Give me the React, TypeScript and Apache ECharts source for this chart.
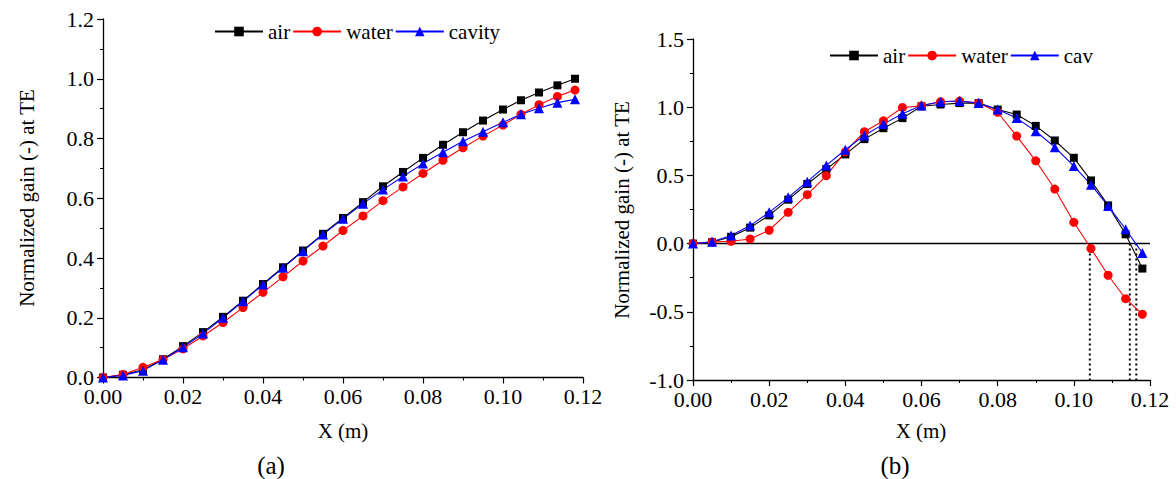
import React, { useEffect, useRef } from "react";
import * as echarts from "echarts";

const xVals = [0, 0.005, 0.01, 0.015, 0.02, 0.025, 0.03, 0.035, 0.04, 0.045, 0.05, 0.055, 0.06, 0.065, 0.07, 0.075, 0.08, 0.085, 0.09, 0.095, 0.1, 0.1045, 0.109, 0.1136, 0.118];

const airA = [0, 0.009, 0.026, 0.061, 0.105, 0.152, 0.203, 0.257, 0.313, 0.369, 0.425, 0.481, 0.534, 0.587, 0.64, 0.688, 0.735, 0.779, 0.821, 0.86, 0.897, 0.928, 0.954, 0.978, 1.0];
const waterA = [0, 0.01, 0.034, 0.06, 0.096, 0.139, 0.184, 0.234, 0.285, 0.337, 0.39, 0.44, 0.492, 0.541, 0.592, 0.638, 0.683, 0.727, 0.769, 0.808, 0.845, 0.881, 0.913, 0.941, 0.962];
const cavityA = [0, 0.007, 0.023, 0.059, 0.101, 0.147, 0.2, 0.255, 0.311, 0.367, 0.423, 0.479, 0.531, 0.582, 0.629, 0.673, 0.716, 0.754, 0.791, 0.823, 0.854, 0.881, 0.901, 0.92, 0.931];

const airB = [0, 0.01, 0.05, 0.117, 0.207, 0.322, 0.437, 0.546, 0.654, 0.766, 0.846, 0.92, 1.007, 1.02, 1.03, 1.03, 0.983, 0.946, 0.863, 0.756, 0.629, 0.463, 0.28, 0.068, -0.183];
const waterB = [0, 0.012, 0.017, 0.034, 0.098, 0.229, 0.359, 0.498, 0.673, 0.82, 0.9, 0.998, 1.01, 1.04, 1.045, 1.03, 0.963, 0.788, 0.607, 0.4, 0.156, -0.036, -0.232, -0.404, -0.518];
const cavB = [0, 0.013, 0.059, 0.132, 0.229, 0.339, 0.454, 0.573, 0.688, 0.793, 0.876, 0.952, 1.012, 1.04, 1.046, 1.03, 0.983, 0.92, 0.824, 0.707, 0.568, 0.432, 0.276, 0.105, -0.068];

const crossX = [0.1042, 0.1147, 0.1164];

const legendA = ["air", "water", "cavity"];
const legendB = ["air", "water", "cav"];
const yTitle = "Normalized gain (-) at TE";
const xTitle = "X (m)";

const FONT = "Liberation Serif, serif";

const pair = (ys: number[]) => xVals.map((x, i) => [x, ys[i]]);

const mkSeries = (name: string, ys: number[], idx: number, color: string, symbol: string, size: number) => ({
  name,
  type: "line",
  xAxisIndex: idx,
  yAxisIndex: idx,
  data: pair(ys),
  symbol,
  symbolSize: size,
  showSymbol: true,
  lineStyle: { color, width: 1.1 },
  itemStyle: { color },
  z: 3,
});

const txt = (text: string, x: number, y: number, size: number, rot = 0) => ({
  type: "text",
  x,
  y,
  rotation: rot,
  style: { text, fontFamily: FONT, fontSize: size, fill: "#000", textAlign: "center", textVerticalAlign: "middle" },
});

export default function App() {
  const ref = useRef<HTMLDivElement>(null);
  useEffect(() => {
    if (!ref.current) return;
    const chart = echarts.init(ref.current, null, { renderer: "svg" });
    const axisCommon = {
      axisLine: { show: true, onZero: false, lineStyle: { color: "#000", width: 1.3 } },
      axisTick: { show: true, length: 6, lineStyle: { color: "#000", width: 1.2 } },
      minorTick: { show: true, splitNumber: 2, length: 3, lineStyle: { color: "#000", width: 1 } },
      splitLine: { show: false },
      axisLabel: { color: "#000", fontFamily: FONT, fontSize: 22 },
    };
    const xAxis = (idx: number) => ({
      type: "value",
      gridIndex: idx,
      min: 0,
      max: 0.12,
      interval: 0.02,
      ...axisCommon,
      axisLabel: { ...axisCommon.axisLabel, margin: 8, formatter: (v: number) => v.toFixed(2) },
    });
    const series: any[] = [
      mkSeries("air", airA, 0, "#000000", "rect", 8),
      mkSeries("water", waterA, 0, "#ff0000", "circle", 9),
      mkSeries("cavity", cavityA, 0, "#0000ff", "triangle", 10),
      {
        name: "zero",
        type: "line",
        xAxisIndex: 1,
        yAxisIndex: 1,
        data: [[0, 0], [0.12, 0]],
        symbol: "none",
        lineStyle: { color: "#000", width: 1.5 },
        silent: true,
        z: 1,
      },
      ...crossX.map((cx, i) => ({
        name: "cross" + i,
        type: "line",
        xAxisIndex: 1,
        yAxisIndex: 1,
        data: [[cx, 0], [cx, -1]],
        symbol: "none",
        lineStyle: { color: "#000", width: 2, type: [2, 3] },
        silent: true,
        z: 1,
      })),
      mkSeries("air", airB, 1, "#000000", "rect", 8),
      mkSeries("water", waterB, 1, "#ff0000", "circle", 9),
      mkSeries("cav", cavB, 1, "#0000ff", "triangle", 10),
    ];
    const legendCommon = {
      orient: "horizontal",
      itemWidth: 48,
      itemHeight: 12,
      itemGap: 2,
      textStyle: { color: "#000", fontFamily: FONT, fontSize: 21 },
      selectedMode: false,
    };
    chart.setOption({
      animation: false,
      backgroundColor: "#fff",
      grid: [
        { left: 103, top: 19, width: 480, height: 358.5 },
        { left: 693, top: 39, width: 457, height: 341 },
      ],
      xAxis: [xAxis(0), xAxis(1)],
      yAxis: [
        {
          type: "value",
          gridIndex: 0,
          min: 0,
          max: 1.2,
          interval: 0.2,
          ...axisCommon,
          axisLabel: { ...axisCommon.axisLabel, margin: 9, formatter: (v: number) => v.toFixed(1) },
        },
        {
          type: "value",
          gridIndex: 1,
          min: -1,
          max: 1.5,
          interval: 0.5,
          ...axisCommon,
          axisLabel: { ...axisCommon.axisLabel, margin: 9, formatter: (v: number) => v.toFixed(1) },
        },
      ],
      legend: [
        { ...legendCommon, left: 209, top: 16, data: legendA },
        { ...legendCommon, left: 824, top: 40, data: legendB },
      ],
      graphic: [
        txt(yTitle, 27, 198, 21, Math.PI / 2),
        txt(yTitle, 622, 210, 21, Math.PI / 2),
        txt(xTitle, 343, 431, 21),
        txt(xTitle, 921, 431, 21),
        txt("(a)", 271, 465, 25),
        txt("(b)", 895, 465, 25),
      ],
      series,
    });
    return () => chart.dispose();
  }, []);
  return <div ref={ref} style={{ position: "fixed", left: 0, top: 0, width: 1176, height: 479 }} />;
}
